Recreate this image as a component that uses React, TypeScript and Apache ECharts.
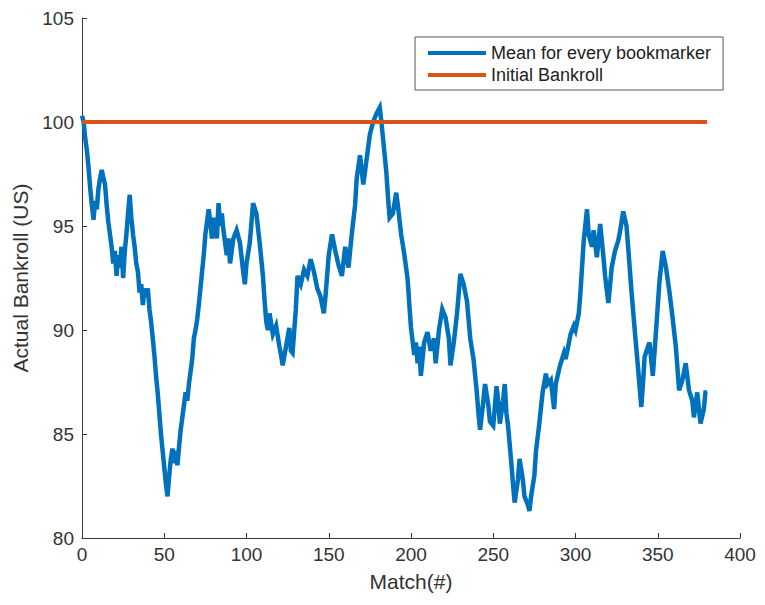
import React, { useEffect, useRef } from "react";
import * as echarts from "echarts";

// Match number (x) and mean bankroll (y)
const matchNo = [
  0, 1, 2, 3, 4, 5, 6, 7, 8, 9, 10, 11, 12, 13, 14, 15, 16, 17, 18, 19,
  20, 21, 22, 23, 24, 25, 26, 27, 28, 29, 30, 31, 32, 33, 34, 35, 36, 37, 38, 39,
  40, 41, 42, 43, 44, 45, 46, 47, 48, 49, 50, 51, 52, 53, 54, 55, 56, 57, 58, 59,
  60, 61, 62, 63, 64, 65, 66, 67, 68, 69, 70, 71, 72, 73, 74, 75, 76, 77, 78, 79,
  80, 81, 82, 83, 84, 85, 86, 87, 88, 89, 90, 92, 94, 96, 98, 99, 100, 102, 104, 106,
  108, 110, 111, 112, 113, 114, 116, 118, 120, 121, 122, 124, 126, 127, 128, 130, 131, 133, 135, 137,
  139, 141, 143, 145, 147, 148, 150, 152, 154, 156, 158, 160, 162, 164, 166, 167, 169, 171, 173, 175,
  177, 179, 181, 182, 183, 185, 186, 187, 189, 191, 192, 194, 196, 198, 199, 200, 202, 203, 204, 205,
  206, 208, 210, 212, 214, 215, 217, 219, 221, 223, 224, 226, 228, 230, 232, 234, 236, 238, 240, 241,
  242, 244, 245, 247, 248, 250, 252, 253, 254, 256, 257, 258, 259, 261, 262, 263, 265, 266, 268, 269,
  271, 272, 273, 275, 276, 278, 280, 282, 283, 285, 287, 288, 290, 291, 293, 294, 296, 297, 299, 300,
  302, 303, 305, 307, 308, 310, 311, 313, 315, 317, 318, 320, 322, 324, 326, 327, 329, 331, 332, 334,
  336, 338, 340, 341, 342, 344, 345, 347, 349, 351, 353, 355, 357, 359, 361, 363, 365, 367, 369, 371,
  372, 374, 376, 378, 379, 380,
];
const meanBankroll = [
  100.3, 100.0, 99.2, 98.6, 97.8, 96.8, 96.0, 95.3, 96.2, 95.8, 96.8, 97.3, 97.7, 97.3, 97.0, 96.0, 95.2, 94.6, 94.0, 93.2,
  93.8, 92.6, 93.6, 93.0, 94.0, 92.5, 93.8, 94.6, 95.6, 96.5, 95.4, 94.6, 94.0, 93.2, 92.8, 91.8, 92.2, 91.2, 92.0, 91.6,
  92.0, 91.0, 90.4, 89.6, 88.8, 87.8, 87.0, 86.0, 85.0, 84.2, 83.4, 82.6, 82.0, 83.0, 83.8, 84.3, 83.6, 84.2, 83.5, 84.4,
  85.2, 85.8, 86.4, 87.0, 86.6, 87.4, 88.0, 88.6, 89.6, 90.0, 90.5, 91.2, 92.0, 92.8, 93.6, 94.6, 95.2, 95.8, 95.2, 94.4,
  95.4, 95.0, 94.4, 96.1, 95.0, 95.6, 94.8, 94.2, 93.6, 94.4, 93.2, 94.4, 94.8, 94.2, 92.8, 92.2, 93.2, 94.2, 96.1, 95.6,
  94.2, 92.6, 91.4, 90.4, 90.0, 90.8, 89.8, 90.2, 89.2, 88.8, 88.3, 89.2, 90.1, 89.0, 88.9, 91.0, 92.6, 92.2, 92.9, 92.6,
  93.4, 92.8, 92.0, 91.6, 90.8, 91.6, 93.6, 94.6, 93.8, 93.1, 92.6, 94.0, 93.0, 94.6, 96.0, 97.3, 98.4, 97.0, 98.2, 99.4,
  100.0, 100.4, 100.7, 100.0, 99.2, 97.6, 96.4, 95.4, 95.6, 96.6, 96.0, 94.6, 93.6, 92.4, 91.2, 90.1, 88.8, 89.4, 88.4, 89.2,
  87.8, 89.4, 89.9, 89.0, 89.6, 88.4, 90.0, 91.0, 90.6, 89.6, 88.3, 89.4, 90.8, 92.7, 92.2, 91.4, 89.6, 88.6, 87.0, 86.0,
  85.2, 86.6, 87.4, 86.4, 85.6, 85.4, 87.3, 86.6, 85.5, 86.6, 87.4, 86.0, 85.4, 83.6, 82.6, 81.7, 82.8, 83.8, 82.8, 82.0,
  81.6, 81.3, 82.0, 83.0, 84.2, 85.5, 87.0, 87.9, 87.4, 87.6, 86.2, 87.4, 88.1, 88.4, 88.9, 88.6, 89.4, 89.8, 90.2, 90.0,
  90.8, 91.8, 94.3, 95.8, 94.6, 94.0, 94.8, 93.5, 95.1, 93.5, 92.6, 91.3, 93.0, 93.8, 94.3, 94.7, 95.7, 95.0, 94.0, 91.9,
  90.0, 88.2, 86.3, 87.4, 88.7, 89.2, 89.4, 87.8, 90.0, 92.3, 93.8, 93.0, 91.9, 90.6, 89.2, 87.1, 87.6, 88.4, 87.1, 86.6,
  85.8, 87.0, 85.5, 86.2, 87.0, 87.0,
];
const initialMatch = [0, 380];
const initialBankroll = [100, 100];
const seriesNames = ["Mean for every bookmarker", "Initial Bankroll"];

const FONT = "'Liberation Sans', Arial, Helvetica, sans-serif";
const AXIS_COLOR = "#3a3a3a";

export default function App() {
  const ref = useRef<HTMLDivElement>(null);

  useEffect(() => {
    if (!ref.current) return;
    const chart = echarts.init(ref.current, undefined, { renderer: "svg" });
    const meanData = matchNo.map((x, i) => [x, meanBankroll[i]]);
    const initData = initialMatch.map((x, i) => [x, initialBankroll[i]]);

    chart.setOption({
      animation: false,
      backgroundColor: "#ffffff",
      grid: { left: 82, top: 18, width: 658, height: 520, containLabel: false },
      legend: {
        orient: "vertical",
        left: 415,
        top: 37,
        data: seriesNames,
        icon: "rect",
        itemWidth: 58,
        itemHeight: 4,
        itemGap: 4,
        padding: [7, 12, 6, 13],
        borderColor: "#555",
        borderWidth: 1,
        backgroundColor: "#fff",
        textStyle: { fontFamily: FONT, fontSize: 18, color: "#222" },
      },
      xAxis: {
        type: "value",
        min: 0,
        max: 400,
        interval: 50,
        name: "Match(#)",
        nameLocation: "middle",
        nameGap: 33,
        nameTextStyle: { fontFamily: FONT, fontSize: 21, color: "#333" },
        axisLine: { show: true, onZero: false, lineStyle: { color: AXIS_COLOR, width: 1 } },
        axisTick: { show: true, inside: true, length: 5, lineStyle: { color: AXIS_COLOR } },
        axisLabel: { fontFamily: FONT, fontSize: 19, color: "#333", margin: 7 },
        splitLine: { show: false },
      },
      yAxis: {
        type: "value",
        min: 80,
        max: 105,
        interval: 5,
        name: "Actual Bankroll (US)",
        nameLocation: "middle",
        nameGap: 50,
        nameRotate: 90,
        nameTextStyle: { fontFamily: FONT, fontSize: 21, color: "#333" },
        axisLine: { show: true, onZero: false, lineStyle: { color: AXIS_COLOR, width: 1 } },
        axisTick: { show: true, inside: true, length: 5, lineStyle: { color: AXIS_COLOR } },
        axisLabel: { fontFamily: FONT, fontSize: 19, color: "#333", margin: 8 },
        splitLine: { show: false },
      },
      series: [
        {
          name: seriesNames[0],
          type: "line",
          data: meanData,
          showSymbol: false,
          symbol: "none",
          lineStyle: { color: "#0072BD", width: 4.5, join: "miter" },
          itemStyle: { color: "#0072BD" },
          z: 2,
        },
        {
          name: seriesNames[1],
          type: "line",
          data: initData,
          showSymbol: false,
          symbol: "none",
          lineStyle: { color: "#D95319", width: 4 },
          itemStyle: { color: "#D95319" },
          z: 3,
        },
      ],
    });
    return () => chart.dispose();
  }, []);

  return (
    <div
      ref={ref}
      style={{ position: "fixed", left: 0, top: 0, width: 765, height: 605, background: "#fff" }}
    />
  );
}
